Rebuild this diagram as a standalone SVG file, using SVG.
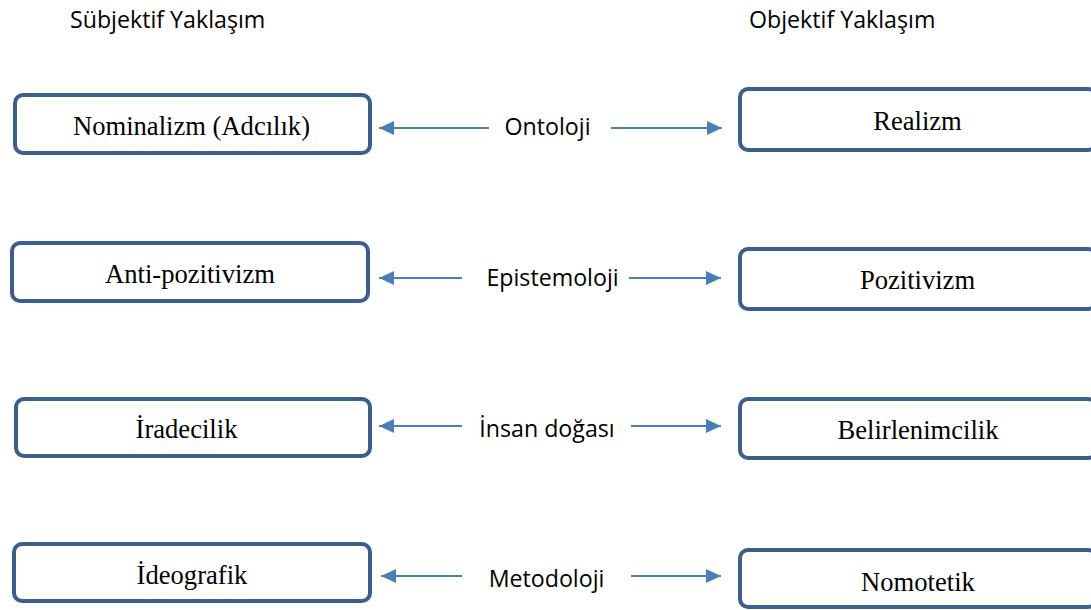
<svg xmlns="http://www.w3.org/2000/svg" width="1091" height="610" viewBox="0 0 1091 610">
<style>
.box{fill:#fff;stroke:#3B5E8C;stroke-width:4}
.t{font-family:"Liberation Serif","Times New Roman",serif;font-size:26.6px;fill:#000;text-anchor:middle}
.s{font-family:"Open Sans","Noto Sans",sans-serif;font-size:23.2px;fill:#000}
.m{text-anchor:middle}
.c{stroke:#4A7EBB;stroke-width:2;fill:none;marker-end:url(#ah)}
</style>
<defs>
<marker id="ah" markerUnits="userSpaceOnUse" markerWidth="16" markerHeight="16" viewBox="0 0 16 16" refX="15" refY="8" orient="auto">
<path d="M0,1 L15,8 L0,15 Z" fill="#4A7EBB"/>
</marker>
</defs>
<rect width="1091" height="610" fill="#fff"/>
<text class="s" x="70" y="28">Sübjektif Yaklaşım</text>
<text class="s" x="749" y="28">Objektif Yaklaşım</text>

<g id="n-nominalizm"><rect class="box" x="15" y="95" width="355" height="58" rx="8"/><text class="t" x="191.5" y="135">Nominalizm (Adcılık)</text></g>
<g id="n-realizm"><rect class="box" x="740" y="89" width="356" height="61" rx="8"/><text class="t" x="917.5" y="130">Realizm</text></g>
<g id="n-antipozitivizm"><rect class="box" x="12" y="243" width="356" height="58" rx="8"/><text class="t" x="190" y="283">Anti-pozitivizm</text></g>
<g id="n-pozitivizm"><rect class="box" x="740" y="249" width="356" height="60" rx="8"/><text class="t" x="917.5" y="289">Pozitivizm</text></g>
<g id="n-iradecilik"><rect class="box" x="16" y="399" width="354" height="57" rx="8"/><text class="t" x="186.5" y="438">İradecilik</text></g>
<g id="n-belirlenimcilik"><rect class="box" x="740" y="399" width="356" height="59" rx="8"/><text class="t" x="918" y="439">Belirlenimcilik</text></g>
<g id="n-ideografik"><rect class="box" x="14" y="544" width="356" height="57" rx="8"/><text class="t" x="192" y="584">İdeografik</text></g>
<g id="n-nomotetik"><rect class="box" x="740" y="550" width="356" height="57" rx="8"/><text class="t" x="918" y="591">Nomotetik</text></g>

<g id="l-ontoloji"><text class="s m" x="547.5" y="135">Ontoloji</text></g>
<g id="l-epistemoloji"><text class="s m" x="552.5" y="286">Epistemoloji</text></g>
<g id="l-insan"><text class="s m" x="547" y="437">İnsan doğası</text></g>
<g id="l-metodoloji"><text class="s m" x="546.5" y="587">Metodoloji</text></g>

<g id="connectors">
<line class="c" x1="489" y1="128" x2="379" y2="128"/>
<line class="c" x1="611" y1="128" x2="722" y2="128"/>
<line class="c" x1="462" y1="278" x2="379" y2="278"/>
<line class="c" x1="629" y1="278" x2="721" y2="278"/>
<line class="c" x1="462" y1="426" x2="379" y2="426"/>
<line class="c" x1="631" y1="426" x2="721" y2="426"/>
<line class="c" x1="462" y1="576" x2="381" y2="576"/>
<line class="c" x1="631" y1="576" x2="721" y2="576"/>
</g>
</svg>
